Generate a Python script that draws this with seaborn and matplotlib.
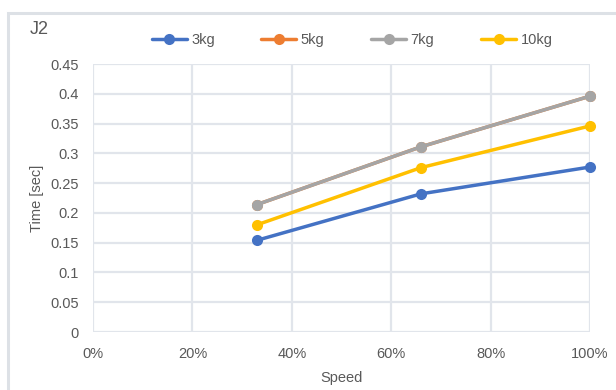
import matplotlib
matplotlib.use("Agg")
import matplotlib.pyplot as plt
from matplotlib.patches import Rectangle
from matplotlib.ticker import PercentFormatter
import pandas as pd
import seaborn as sns

# Data
speed = [0.33, 0.66, 1.00]
loads = ["3kg", "5kg", "7kg", "10kg"]
time_3kg = [0.154, 0.232, 0.277]
time_5kg = [0.214, 0.311, 0.396]
time_7kg = [0.214, 0.311, 0.396]
time_10kg = [0.180, 0.276, 0.346]
colors = ["#4472C4", "#ED7D31", "#A5A5A5", "#FFC000"]
y_ticks = [0, 0.05, 0.1, 0.15, 0.2, 0.25, 0.3, 0.35, 0.4, 0.45]
x_ticks = [0, 0.2, 0.4, 0.6, 0.8, 1.0]

df = pd.DataFrame({
    "Speed": speed * 4,
    "Time": time_3kg + time_5kg + time_7kg + time_10kg,
    "Load": [l for l in loads for _ in speed],
})

sns.set_style("white")
plt.rcParams["font.family"] = ["Liberation Sans", "DejaVu Sans"]
text_color = "#595959"
grid_color = "#E1E5EB"

fig = plt.figure(figsize=(6.16, 3.90), dpi=100)
# chart frame
fig.patches.append(Rectangle((8 / 616, -0.05), 1.0, 1 - 13 / 390 + 0.05,
                             transform=fig.transFigure, fill=False,
                             edgecolor="#DDE1E6", linewidth=2.2))
ax = fig.add_axes([93 / 616, 1 - 332 / 390, (590 - 93) / 616, (332 - 64) / 390])

sns.lineplot(data=df, x="Speed", y="Time", hue="Load", hue_order=loads,
             palette=colors, marker="o", markersize=8, markeredgewidth=0,
             linewidth=2.5, ax=ax, legend=True)

ax.set_xlim(0, 1.0)
ax.set_ylim(0, 0.45)
ax.set_xticks(x_ticks)
ax.set_yticks(y_ticks)
ax.set_yticklabels([f"{v:g}" for v in y_ticks])
ax.xaxis.set_major_formatter(PercentFormatter(1.0, decimals=0))
ax.grid(True, color=grid_color, linewidth=1.6)
ax.set_axisbelow(True)
for s in ax.spines.values():
    s.set_visible(False)
ax.tick_params(axis="x", length=0, labelsize=10.5, colors=text_color, pad=11)
ax.tick_params(axis="y", length=0, labelsize=10.5, colors=text_color, pad=10)
ax.set_xlabel("Speed", fontsize=10.5, color=text_color, labelpad=7)
ax.set_ylabel("Time [sec]", fontsize=10.5, color=text_color, labelpad=5)
for line in ax.lines:
    line.set_clip_on(False)

leg = ax.legend(loc="center", bbox_to_anchor=(352 / 616, 1 - 40 / 390),
                bbox_transform=fig.transFigure, ncol=4, frameon=False,
                fontsize=10.5, handlelength=2.4, columnspacing=3.2,
                handletextpad=0.3, labelcolor=text_color)
fig.text(30 / 616, 1 - 29 / 390, "J2", fontsize=13, color=text_color,
         va="center", ha="left")

fig.savefig("out.png", dpi=100)
